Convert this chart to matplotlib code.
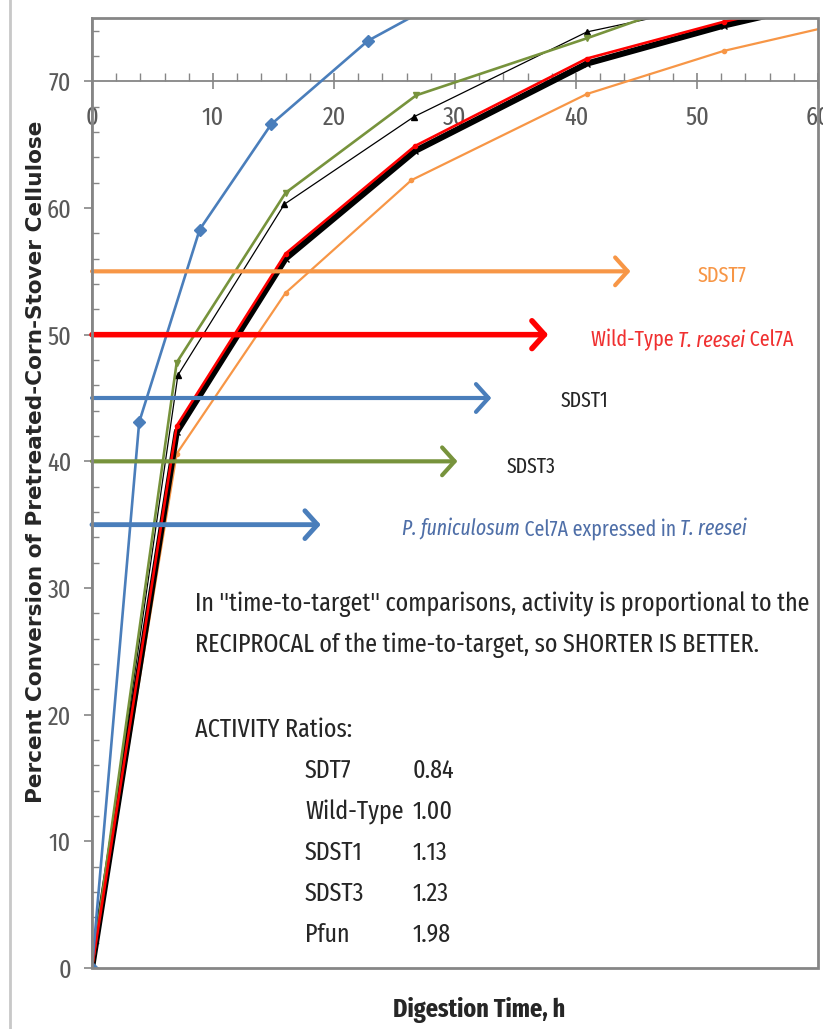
import matplotlib
matplotlib.use("Agg")
import matplotlib.pyplot as plt
from matplotlib.patches import Rectangle
from matplotlib.lines import Line2D
from matplotlib.ticker import MultipleLocator

FONT = ['Fira Sans Extra Condensed', 'DejaVu Sans']
plt.rcParams['font.family'] = FONT

# ---------------- data ----------------
pfun_t = [0, 3.9, 8.9, 14.8, 22.8, 33.0]
pfun_y = [0, 43.1, 58.3, 66.6, 73.2, 78.5]

sdst3_t = [0, 7.0, 16.0, 26.8, 40.9, 52.2]
sdst3_y = [0, 47.8, 61.2, 68.9, 73.4, 77.2]

sdst1_t = [0, 7.1, 15.9, 26.6, 40.9, 52.2]
sdst1_y = [0, 46.8, 60.3, 67.2, 73.9, 76.2]

wt_t = [0, 7.0, 16.0, 26.7, 40.9, 52.2, 64.0]
wt_y = [0, 42.8, 56.4, 64.9, 71.8, 74.7, 77.2]
wt_rep_y = [0, 42.3, 56.0, 64.5, 71.4, 74.4, 77.0]

sdst7_t = [0, 7.0, 16.0, 26.4, 40.9, 52.2, 64.0]
sdst7_y = [0, 40.6, 53.3, 62.2, 69.0, 72.4, 75.0]

# time-to-target arrows
target_levels = [55, 50, 45, 40, 35]
target_times = [44.5, 37.7, 33.0, 30.2, 18.9]

ratio_names = ['SDT7', 'Wild-Type', 'SDST1', 'SDST3', 'Pfun']
ratio_values = ['0.84', '1.00', '1.13', '1.23', '1.98']

x_ticks = [0, 10, 20, 30, 40, 50, 60]
y_ticks = [0, 10, 20, 30, 40, 50, 60, 70]

# ---------------- style ----------------
BLUE = '#4A7EBB'
GREEN = '#77933C'
ORANGE = '#F79646'
RED = '#FF0000'
GRAY = '#868686'
TXT = '#262626'

W, H = 823, 1029
fig = plt.figure(figsize=(W / 100, H / 100), dpi=100)
ax = fig.add_axes([92 / W, 1 - 968 / H, (818 - 92) / W, (968 - 18) / H])
renderer = fig.canvas.get_renderer()


def fx(px):
    return px / W


def fy(py):
    return 1 - py / H


def fit(t, target_px, vertical=False):
    bb = t.get_window_extent(renderer)
    cur = bb.height if vertical else bb.width
    t.set_fontsize(t.get_fontsize() * target_px / cur)
    return t


# series
ax.plot(sdst7_t, sdst7_y, color=ORANGE, lw=1.6, marker='o', ms=3, zorder=3)
ax.plot(wt_t, wt_rep_y, color='black', lw=4.4, marker='x', ms=4, zorder=4)
ax.plot(wt_t, wt_y, color=RED, lw=1.9, marker='o', ms=3, zorder=5)
ax.plot(sdst1_t, sdst1_y, color='black', lw=0.9, marker='^', ms=5, zorder=4)
ax.plot(sdst3_t, sdst3_y, color=GREEN, lw=1.9, marker='v', ms=4, zorder=4)
ax.plot(pfun_t, pfun_y, color=BLUE, lw=1.9, marker='D', ms=6, zorder=6)

# arrows
arrow_colors = [ORANGE, RED, BLUE, GREEN, BLUE]
arrow_lws = [3.0, 4.0, 3.0, 3.0, 3.5]
for lvl, tt, c, lw in zip(target_levels, target_times, arrow_colors, arrow_lws):
    ax.annotate('', xy=(tt, lvl), xytext=(0, lvl),
                arrowprops=dict(arrowstyle='->,head_length=0.45,head_width=0.5',
                                lw=lw, color=c, shrinkA=0, shrinkB=0,
                                mutation_scale=20),
                zorder=7, annotation_clip=False)

ax.set_xlim(0, 60)
ax.set_ylim(0, 75)

# axes styling
for s in ['top', 'right']:
    ax.spines[s].set_visible(False)
ax.spines['left'].set_color(GRAY)
ax.spines['left'].set_linewidth(1.3)
ax.spines['bottom'].set_position(('data', 70))
ax.spines['bottom'].set_color(GRAY)
ax.spines['bottom'].set_linewidth(1.3)

ax.set_xticks(x_ticks)
ax.set_xticklabels([str(v) for v in x_ticks])
ax.set_yticks(y_ticks)
ax.set_yticklabels([str(v) for v in y_ticks])
ax.xaxis.set_minor_locator(MultipleLocator(2))
ax.yaxis.set_minor_locator(MultipleLocator(2))
ax.tick_params(axis='x', which='major', direction='inout', length=12, width=1.2,
               color=GRAY, labelsize=19, labelcolor='#595959', pad=11)
ax.tick_params(axis='x', which='minor', direction='in', length=6, width=1.0, color=GRAY)
ax.tick_params(axis='y', which='major', direction='out', length=6, width=1.2,
               color=GRAY, labelsize=19, labelcolor='#595959', pad=9)
ax.tick_params(axis='y', which='minor', direction='in', length=5, width=1.0, color=GRAY)

# outer frame box
ax.add_patch(Rectangle((0, 0), 1, 1, transform=ax.transAxes, fill=False,
                       edgecolor=GRAY, lw=2.0, clip_on=False, zorder=10))
# page border line on the far left
fig.add_artist(Line2D([fx(10), fx(10)], [0, 1], color='#C8C8C8', lw=2))

# axis labels
ylab = fig.text(fx(36), fy(462), 'Percent Conversion of Pretreated-Corn-Stover Cellulose',
                rotation=90, ha='center', va='center', fontsize=14, fontweight='bold',
                color=TXT, family=['DejaVu Sans'])
fit(ylab, 687, vertical=True)
xlab = fig.text(fx(479), fy(1010), 'Digestion Time, h', ha='center', va='center',
                fontsize=18, fontweight='bold', color=TXT)
fit(xlab, 172)


def chain(parts, x, y, size, color, target):
    texts = [fig.text(x, y, parts[0][0], fontsize=size, color=color,
                      style=parts[0][1], ha='left', va='center', zorder=12)]
    for s, st in parts[1:]:
        texts.append(ax.annotate(s, xy=(1, 0), xycoords=texts[-1], xytext=(0, 0),
                                 textcoords='offset points', va='bottom', ha='left',
                                 fontsize=size, color=color, style=st, zorder=12))
    fig.canvas.draw()
    x0 = texts[0].get_window_extent(renderer).x0
    x1 = texts[-1].get_window_extent(renderer).x1
    k = target / (x1 - x0)
    for t in texts:
        t.set_fontsize(size * k)
    return texts


# series labels
t = fig.text(fx(698), fy(276), 'SDST7', fontsize=16, color=ORANGE, va='center', ha='left')
fit(t, 49)
chain([('Wild-Type ', 'normal'), ('T. reesei', 'italic'), (' Cel7A', 'normal')],
      fx(591), fy(340), 16, '#F03030', 203)
t = fig.text(fx(561), fy(401), 'SDST1', fontsize=16, color=TXT, va='center', ha='left')
fit(t, 48)
t = fig.text(fx(507), fy(467), 'SDST3', fontsize=16, color=TXT, va='center', ha='left')
fit(t, 49)
chain([('P. funiculosum', 'italic'), (' Cel7A expressed in ', 'normal'), ('T. reesei', 'italic')],
      fx(402), fy(529), 16, '#4F6FA8', 345)

# annotation block
l1 = fig.text(fx(195), fy(604), 'In "time-to-target" comparisons, activity is proportional to the',
              fontsize=20, color=TXT, va='center', ha='left')
fit(l1, 618)
body = l1.get_fontsize()
fig.text(fx(195), fy(645), 'RECIPROCAL of the time-to-target, so SHORTER IS BETTER.',
         fontsize=body, color=TXT, va='center', ha='left')
fig.text(fx(195), fy(730), 'ACTIVITY Ratios:', fontsize=body, color=TXT, va='center', ha='left')
for i, (n, v) in enumerate(zip(ratio_names, ratio_values)):
    yy = 771 + i * 41
    fig.text(fx(305), fy(yy), n, fontsize=body, color=TXT, va='center', ha='left')
    fig.text(fx(413), fy(yy), v, fontsize=body, color=TXT, va='center', ha='left')

fig.savefig('out.png', dpi=100)
